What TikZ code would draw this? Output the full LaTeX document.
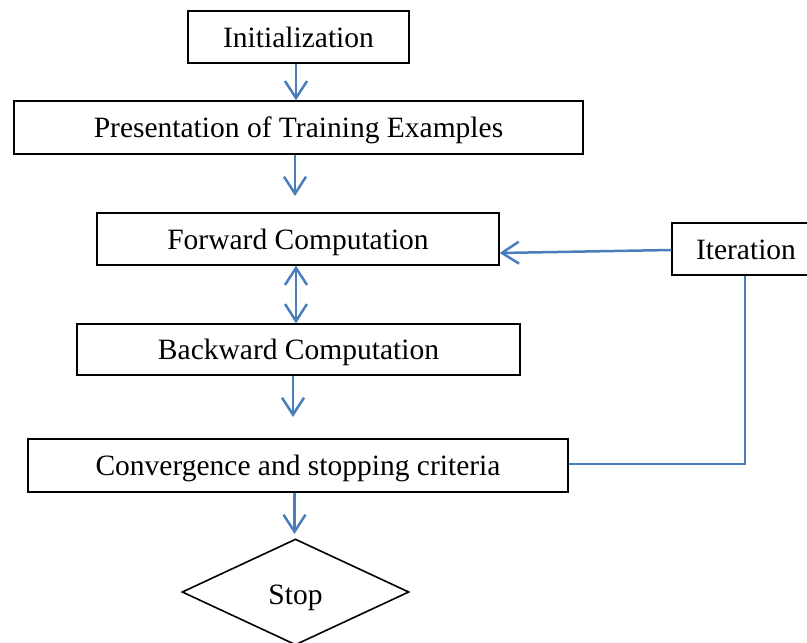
\documentclass[tikz,border=0pt]{standalone}
\usepackage{fontspec}
\setmainfont{Liberation Serif}
\usetikzlibrary{arrows.meta,shapes.geometric}
\definecolor{flowblue}{RGB}{74,126,187}
\begin{document}
\begin{tikzpicture}[x=1pt,y=-1pt,
  stepbox/.style={draw=black,line width=1.3pt,rectangle,inner sep=0pt,
    text height=26pt,text depth=6pt,font=\fontsize{29.5}{34}\selectfont},
  decision/.style={draw=black,line width=1.6pt,diamond,inner sep=0pt,aspect=2.14,
    text height=30pt,text depth=6pt,
    minimum width=227pt,minimum height=106pt,font=\fontsize{29.5}{34}\selectfont},
  tip/.style={Straight Barb[length=17pt,width=22pt,line width=2.5pt]},
  arr/.style={draw=flowblue,line width=2.5pt,-{Straight Barb[length=17pt,width=22pt,line width=2.5pt]}},
  link/.style={draw=flowblue,line width=2pt}]
\useasboundingbox (0,0) rectangle (807,643);
\begin{scope}
\clip (0,0) rectangle (807,643);
\node[stepbox,minimum width=221pt,minimum height=52pt] (init) at (298.5,37) {Initialization};
\node[stepbox,minimum width=569pt,minimum height=53pt] (pres) at (298.5,127.5) {Presentation of Training Examples};
\node[stepbox,minimum width=402pt,minimum height=52pt] (fwd) at (298,239) {Forward Computation};
\node[stepbox,minimum width=148pt,minimum height=52pt] (iter) at (746,249) {Iteration};
\node[stepbox,minimum width=443pt,minimum height=51pt] (bwd) at (298.5,349.5) {Backward Computation};
\node[stepbox,minimum width=540pt,minimum height=53pt] (conv) at (298,465.5) {Convergence and stopping criteria};
\node[decision] (stop) at (295.5,592) {Stop};

\coordinate (presend) at (295,196);
\coordinate (bwdend) at (293,417);
\coordinate (convend) at (294.5,534);

\draw[arr] (init.south -| 296,0) -- (pres.north -| 296,0);
\draw[arr] (pres.south -| 295,0) -- (presend);
\draw[arr,{Straight Barb[length=17pt,width=22pt,line width=2.5pt]}-{Straight Barb[length=17pt,width=22pt,line width=2.5pt]}]
  (fwd.south -| 296,0) -- (bwd.north -| 296,0);
\draw[arr] (bwd.south -| 293,0) -- (bwdend);
\draw[arr] (conv.south -| 294.5,0) -- (convend);
\draw[arr] (iter.west |- 0,250) -- (fwd.east |- 0,253);
\draw[link] (iter.south -| 745,0) -- (745,464) -- (conv.east |- 0,464);
\end{scope}
\end{tikzpicture}
\end{document}
